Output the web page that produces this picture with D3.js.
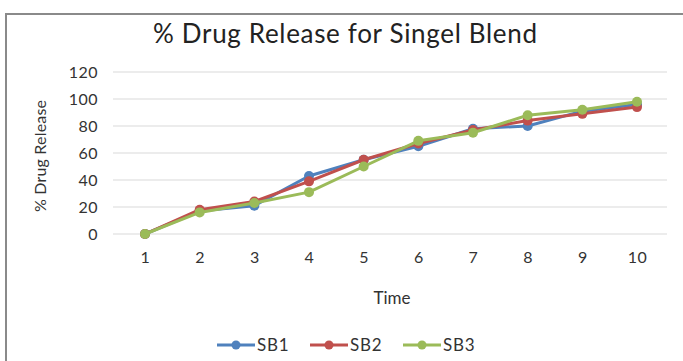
<!DOCTYPE html>
<html><head><meta charset="utf-8">
<script src="https://cdn.jsdelivr.net/npm/d3@7"></script>
<style>body{margin:0;background:#fff;} svg{display:block;} text{font-family:Lato,"Open Sans",sans-serif;}</style>
</head><body><svg id="c" width="683" height="361"></svg>
<script>
const times = [1,2,3,4,5,6,7,8,9,10];
const yTicks = [0,20,40,60,80,100,120];
const seriesNames = ["SB1","SB2","SB3"];
const sb1 = [0,17,21,43,55,65,78,80,91,96];
const sb2 = [0,18,24,39,55,67,77,84,89,94];
const sb3 = [0,16,23,31,50,69,75,88,92,98];
const colors = ["#4F81BD","#C0504D","#9BBB59"];
const title = "% Drug Release for Singel Blend";
const xTitle = "Time";
const yTitle = "% Drug Release";

const svg = d3.select("#c");
svg.append("rect").attr("x",6).attr("y",14).attr("width",690).attr("height",360)
  .attr("fill","#fff").attr("stroke","#8a8a8a").attr("stroke-width",2);

const x = d3.scalePoint().domain(times).range([145,637]);
const y = d3.scaleLinear().domain([0,120]).range([234,72]);

// gridlines
svg.append("g").selectAll("line").data(yTicks).join("line")
  .attr("x1",113).attr("x2",667).attr("y1",d=>y(d)).attr("y2",d=>y(d))
  .attr("stroke","#d9d9d9").attr("stroke-width",1.2);

// y axis labels
const ya = svg.append("g").attr("transform","translate(98,0)")
  .call(d3.axisLeft(y).tickValues(yTicks).tickSize(0).tickPadding(0));
ya.select(".domain").remove();
ya.selectAll("text").attr("font-size",16).attr("fill","#333").attr("font-family","Lato,sans-serif")
  .attr("letter-spacing",0.5);

// x axis labels
const xa = svg.append("g").attr("transform","translate(0,252)")
  .call(d3.axisBottom(x).tickSize(0).tickPadding(0));
xa.select(".domain").remove();
xa.selectAll("text").attr("font-size",16).attr("fill","#333").attr("font-family","Lato,sans-serif")
  .attr("letter-spacing",0.5);

// titles
svg.append("text").attr("x",345).attr("y",43).attr("text-anchor","middle")
  .attr("font-size",26).attr("fill","#222").attr("textLength",384).attr("lengthAdjust","spacing").text(title);
svg.append("text").attr("x",392).attr("y",304).attr("text-anchor","middle")
  .attr("font-size",17).attr("fill","#333").text(xTitle);
svg.append("text").attr("transform","translate(46,156) rotate(-90)").attr("text-anchor","middle")
  .attr("font-size",16).attr("fill","#333").attr("textLength",112).attr("lengthAdjust","spacing").text(yTitle);

// series
const data = [sb1,sb2,sb3];
const line = d3.line().x((d,i)=>x(times[i])).y(d=>y(d));
data.forEach((vals,k)=>{
  const g = svg.append("g");
  g.append("path").datum(vals).attr("d",line).attr("fill","none")
    .attr("stroke",colors[k]).attr("stroke-width",3).attr("stroke-linejoin","round");
  g.selectAll("circle").data(vals).join("circle")
    .attr("cx",(d,i)=>x(times[i])).attr("cy",d=>y(d)).attr("r",5).attr("fill",colors[k]);
});

// legend
const lx = [217,310,403];
seriesNames.forEach((n,k)=>{
  const g = svg.append("g").attr("transform",`translate(${lx[k]},345)`);
  g.append("line").attr("x1",0).attr("x2",38).attr("stroke",colors[k]).attr("stroke-width",3);
  g.append("circle").attr("cx",19).attr("r",4.5).attr("fill",colors[k]);
  g.append("text").attr("x",40).attr("y",6).attr("font-size",17).attr("fill","#333")
    .attr("letter-spacing",0.8).text(n);
});
</script></body></html>
